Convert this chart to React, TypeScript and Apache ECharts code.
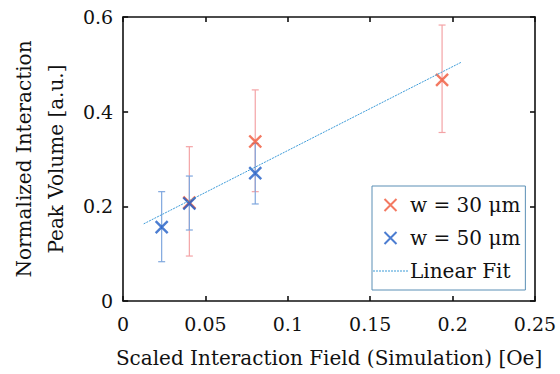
import React, { useEffect, useRef } from "react";
import * as echarts from "echarts";

const xRed = [0.0402, 0.0802, 0.1936];
const yRed = [0.208, 0.337, 0.467];
const redLow = [0.095, 0.231, 0.356];
const redHigh = [0.326, 0.446, 0.583];
const xBlue = [0.0234, 0.0402, 0.0802];
const yBlue = [0.156, 0.206, 0.27];
const blueLow = [0.083, 0.15, 0.205];
const blueHigh = [0.231, 0.264, 0.333];
const fitX = [0.0125, 0.205];
const fitY = [0.163, 0.504];

const redName = "w = 30 μm";
const blueName = "w = 50 μm";
const fitName = "Linear Fit";

const FONT = "DejaVu Serif";
const RED = "#f0583a";
const BLUE = "#1f5cc6";
const RED_ERR = "#f4a3a6";
const BLUE_ERR = "#7fa7de";
const FIT = "#3d9bd8";
const XMARK = "path://M0,0L10,10M10,0L0,10";

// dotted legend line icon
let dotted = "path://";
for (let i = 0; i < 12; i++) dotted += `M${i * 3},0h2v1h-2z`;

function errSeries(xs: number[], lo: number[], hi: number[], color: string) {
  return {
    type: "custom",
    silent: true,
    z: 1,
    data: xs.map((x, i) => [x, lo[i], hi[i]]),
    encode: { x: 0, y: [1, 2] },
    renderItem: (_params: any, api: any) => {
      const x = api.value(0);
      const p1 = api.coord([x, api.value(1)]);
      const p2 = api.coord([x, api.value(2)]);
      const cap = 3.5;
      const style = { stroke: color, lineWidth: 1.2 };
      return {
        type: "group",
        children: [
          { type: "line", shape: { x1: p1[0], y1: p1[1], x2: p2[0], y2: p2[1] }, style },
          { type: "line", shape: { x1: p1[0] - cap, y1: p1[1], x2: p1[0] + cap, y2: p1[1] }, style },
          { type: "line", shape: { x1: p2[0] - cap, y1: p2[1], x2: p2[0] + cap, y2: p2[1] }, style },
        ],
      };
    },
  };
}

export default function App() {
  const ref = useRef<HTMLDivElement>(null);
  useEffect(() => {
    if (!ref.current) return;
    const chart = echarts.init(ref.current, null, { renderer: "svg" });
    const axisCommon = {
      min: 0,
      axisLine: { show: true, onZero: false, lineStyle: { color: "#111", width: 1.6 } },
      axisTick: { show: true, inside: true, length: 5, lineStyle: { color: "#111", width: 1.6 } },
      splitLine: { show: false },
    };
    const txt = { fontFamily: FONT, fontSize: 20, color: "#111" };
    chart.setOption({
      animation: false,
      backgroundColor: "#fff",
      grid: { left: 114, right: 25, top: 17, bottom: 73 },
      legend: {
        left: 372,
        top: 186,
        orient: "vertical",
        backgroundColor: "#fff",
        borderColor: "#5b8fb5",
        borderWidth: 1,
        padding: [9, 5, 9, 1],
        itemWidth: 35,
        itemHeight: 12,
        itemGap: 13,
        textStyle: { ...txt, padding: [0, 0, 0, -3] },
        data: [
          { name: redName },
          { name: blueName },
          { name: fitName, icon: dotted, itemStyle: { color: FIT } },
        ],
      },
      xAxis: [
        {
          ...axisCommon,
          type: "value",
          max: 0.25,
          interval: 0.05,
          position: "bottom",
          axisLabel: { ...txt, fontSize: 19, margin: 13 },
          name: "Scaled Interaction Field (Simulation) [Oe]",
          nameLocation: "middle",
          nameGap: 47,
          nameTextStyle: txt,
        },
        {
          ...axisCommon,
          type: "value",
          max: 0.25,
          interval: 0.05,
          position: "top",
          axisLabel: { show: false },
        },
      ],
      yAxis: [
        {
          ...axisCommon,
          type: "value",
          max: 0.6,
          interval: 0.2,
          position: "left",
          axisLabel: { ...txt, fontSize: 19, margin: 10 },
          name: "Normalized Interaction\nPeak Volume [a.u.]",
          nameLocation: "middle",
          nameRotate: 90,
          nameGap: 45,
          nameTextStyle: { ...txt, lineHeight: 32 },
        },
        {
          ...axisCommon,
          type: "value",
          max: 0.6,
          interval: 0.2,
          position: "right",
          axisLabel: { show: false },
        },
      ],
      series: [
        errSeries(xRed, redLow, redHigh, RED_ERR),
        errSeries(xBlue, blueLow, blueHigh, BLUE_ERR),
        {
          name: redName,
          type: "scatter",
          z: 3,
          symbol: XMARK,
          symbolSize: 12,
          itemStyle: { color: "rgba(0,0,0,0)", borderColor: RED, borderWidth: 2.4 },
          data: xRed.map((x, i) => [x, yRed[i]]),
        },
        {
          name: blueName,
          type: "scatter",
          z: 4,
          symbol: XMARK,
          symbolSize: 12,
          itemStyle: { color: "rgba(0,0,0,0)", borderColor: BLUE, borderWidth: 2.4 },
          data: xBlue.map((x, i) => [x, yBlue[i]]),
        },
        {
          name: fitName,
          type: "line",
          z: 5,
          symbol: "none",
          lineStyle: { color: FIT, width: 1, type: [2, 1] },
          itemStyle: { color: FIT },
          data: fitX.map((x, i) => [x, fitY[i]]),
        },
      ],
    });
    return () => chart.dispose();
  }, []);
  return (
    <div
      ref={ref}
      style={{ position: "absolute", left: 0, top: 0, width: 560, height: 374 }}
    />
  );
}
